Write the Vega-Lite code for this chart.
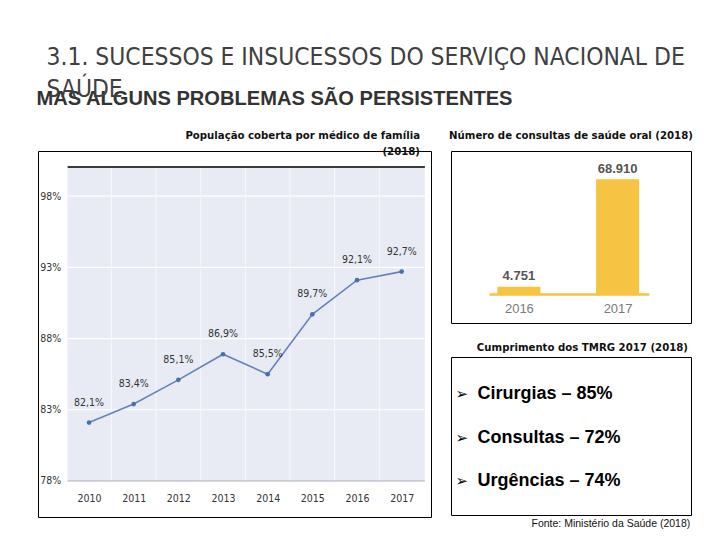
{
  "$schema": "https://vega.github.io/schema/vega-lite/v6.json",
  "padding": {"left": 36, "top": 44, "right": 0, "bottom": 0},
  "background": "white",
  "config": {
    "view": {"stroke": "#000000", "strokeWidth": 1},
    "font": "Liberation Sans"
  },
  "title": {
    "text": ["3.1. SUCESSOS E INSUCESSOS DO SERVIÇO NACIONAL DE", "SAÚDE"],
    "anchor": "start",
    "dx": 10,
    "fontSize": 24.4,
    "font": "DejaVu Sans Condensed, sans-serif",
    "fontWeight": "normal",
    "color": "#404040",
    "lineHeight": 32,
    "offset": -13
  },
  "vconcat": [
    {
      "title": {
        "text": "MAS ALGUNS PROBLEMAS SÃO PERSISTENTES",
        "anchor": "start",
        "dx": -1,
        "fontSize": 20.1,
        "fontWeight": "bold",
        "font": "Liberation Sans",
        "color": "#333333",
        "offset": 20
      },
      "bounds": "flush",
      "spacing": 20,
      "hconcat": [
        {
          "width": 393,
          "height": 366,
          "title": {
            "text": ["População coberta por médico de família", "(2018)"],
            "anchor": "end",
            "dx": -11,
            "offset": -6,
            "fontSize": 11.3,
            "font": "DejaVu Sans Condensed, sans-serif",
            "fontWeight": "bold",
            "color": "#111111",
            "lineHeight": 16
          },
          "layer": [
            {
              "data": {"values": [{}]},
              "mark": {"type": "rect", "color": "#e8ebf3"},
              "encoding": {
                "x": {"datum": 2009.52, "type": "quantitative", "scale": {"domain": [2008.857, 2017.657], "nice": false, "zero": false}},
                "x2": {"datum": 2017.52},
                "y": {"datum": 78, "type": "quantitative", "scale": {"domain": [75.47, 101.17], "nice": false, "zero": false}},
                "y2": {"datum": 100.05}
              }
            },
            {
              "data": {"values": [{"grade": 83}, {"grade": 88}, {"grade": 93}, {"grade": 98}]},
              "mark": {"type": "rule", "color": "#ffffff", "strokeWidth": 1.2},
              "encoding": {
                "x": {"datum": 2009.52, "type": "quantitative", "scale": {"domain": [2008.857, 2017.657], "nice": false, "zero": false}},
                "x2": {"datum": 2017.52},
                "y": {"field": "grade", "type": "quantitative", "scale": {"domain": [75.47, 101.17], "nice": false, "zero": false}}
              }
            },
            {
              "data": {"values": [{"limite": 2010.5}, {"limite": 2011.5}, {"limite": 2012.5}, {"limite": 2013.5}, {"limite": 2014.5}, {"limite": 2015.5}, {"limite": 2016.5}]},
              "mark": {"type": "rule", "color": "#f7f8fb", "strokeWidth": 1},
              "encoding": {
                "x": {"field": "limite", "type": "quantitative", "scale": {"domain": [2008.857, 2017.657], "nice": false, "zero": false}},
                "y": {"datum": 78, "type": "quantitative", "scale": {"domain": [75.47, 101.17], "nice": false, "zero": false}},
                "y2": {"datum": 100.05}
              }
            },
            {
              "data": {"values": [{}]},
              "mark": {"type": "rule", "color": "#a9adb5", "strokeWidth": 1},
              "encoding": {
                "x": {"datum": 2009.52, "type": "quantitative", "scale": {"domain": [2008.857, 2017.657], "nice": false, "zero": false}},
                "x2": {"datum": 2017.52},
                "y": {"datum": 78, "type": "quantitative", "scale": {"domain": [75.47, 101.17], "nice": false, "zero": false}}
              }
            },
            {
              "data": {"values": [{}]},
              "mark": {"type": "rule", "color": "#3a3a3a", "strokeWidth": 2},
              "encoding": {
                "x": {"datum": 2009.52, "type": "quantitative", "scale": {"domain": [2008.857, 2017.657], "nice": false, "zero": false}},
                "x2": {"datum": 2017.52},
                "y": {"datum": 100.05, "type": "quantitative", "scale": {"domain": [75.47, 101.17], "nice": false, "zero": false}}
              }
            },
            {
              "data": {
                "values": [
                  {"ano": 2010, "cobertura": 82.1, "rotulo": "82,1%"},
                  {"ano": 2011, "cobertura": 83.4, "rotulo": "83,4%"},
                  {"ano": 2012, "cobertura": 85.1, "rotulo": "85,1%"},
                  {"ano": 2013, "cobertura": 86.9, "rotulo": "86,9%"},
                  {"ano": 2014, "cobertura": 85.5, "rotulo": "85,5%"},
                  {"ano": 2015, "cobertura": 89.7, "rotulo": "89,7%"},
                  {"ano": 2016, "cobertura": 92.1, "rotulo": "92,1%"},
                  {"ano": 2017, "cobertura": 92.7, "rotulo": "92,7%"}
                ]
              },
              "layer": [
                {
                  "mark": {"type": "line", "color": "#6384b6", "strokeWidth": 1.6, "point": {"filled": true, "color": "#4870aa", "size": 22}},
                  "encoding": {
                    "x": {
                      "field": "ano", "type": "quantitative",
                      "scale": {"domain": [2008.857, 2017.657], "nice": false, "zero": false},
                      "axis": {"values": [2010, 2011, 2012, 2013, 2014, 2015, 2016, 2017], "format": "d", "offset": -36, "domain": false, "ticks": false, "grid": false, "labelPadding": 12, "labelFontSize": 10.5, "labelFont": "DejaVu Sans Condensed, sans-serif", "labelColor": "#333333", "title": null}
                    },
                    "y": {
                      "field": "cobertura", "type": "quantitative",
                      "scale": {"domain": [75.47, 101.17], "nice": false, "zero": false},
                      "axis": {"values": [78, 83, 88, 93, 98], "labelExpr": "datum.value + '%'", "offset": -29.7, "domain": false, "ticks": false, "grid": false, "labelPadding": 7, "labelFontSize": 10.5, "labelFont": "DejaVu Sans Condensed, sans-serif", "labelColor": "#333333", "title": null}
                    }
                  }
                },
                {
                  "mark": {"type": "text", "dy": -20, "fontSize": 10.5, "font": "DejaVu Sans Condensed, sans-serif", "color": "#333333"},
                  "encoding": {
                    "x": {"field": "ano", "type": "quantitative", "scale": {"domain": [2008.857, 2017.657], "nice": false, "zero": false}},
                    "y": {"field": "cobertura", "type": "quantitative", "scale": {"domain": [75.47, 101.17], "nice": false, "zero": false}},
                    "text": {"field": "rotulo"}
                  }
                }
              ]
            }
          ]
        },
        {
          "bounds": "flush",
          "spacing": 34,
          "vconcat": [
            {
              "width": 240,
              "height": 172,
              "title": {
                "text": "Número de consultas de saúde oral  (2018)",
                "anchor": "middle",
                "offset": 10,
                "fontSize": 11.3,
                "font": "DejaVu Sans Condensed, sans-serif",
                "fontWeight": "bold",
                "color": "#111111"
              },
              "data": {"values": [{"ano": 2016, "consultas": 4751, "rotulo": "4.751"}, {"ano": 2017, "consultas": 68910, "rotulo": "68.910"}]},
              "layer": [
                {
                  "mark": {"type": "bar", "color": "#f6c343", "width": 43},
                  "encoding": {
                    "x": {"field": "ano", "type": "quantitative", "scale": {"domain": [2015.363, 2017.693], "nice": false, "zero": false}, "axis": {"values": [2016, 2017], "format": "d", "offset": -28.4, "domain": false, "ticks": false, "grid": false, "labelPadding": 7.5, "labelFontSize": 13, "labelFont": "Liberation Sans", "labelColor": "#7a7a7a", "title": null}},
                    "y": {"field": "consultas", "type": "quantitative", "scale": {"domain": [-16975, 85825], "nice": false}, "axis": null}
                  }
                },
                {
                  "mark": {"type": "rule", "color": "#f6c343", "strokeWidth": 2},
                  "encoding": {
                    "x": {"datum": 2015.703, "type": "quantitative", "scale": {"domain": [2015.363, 2017.693], "nice": false, "zero": false}},
                    "x2": {"datum": 2017.32},
                    "y": {"datum": 0, "type": "quantitative", "scale": {"domain": [-16975, 85825], "nice": false}, "axis": null}
                  }
                },
                {
                  "mark": {"type": "text", "dy": -10.5, "fontWeight": "bold", "fontSize": 13, "color": "#555555", "font": "Liberation Sans"},
                  "encoding": {
                    "x": {"field": "ano", "type": "quantitative", "scale": {"domain": [2015.363, 2017.693], "nice": false, "zero": false}},
                    "y": {"field": "consultas", "type": "quantitative", "scale": {"domain": [-16975, 85825], "nice": false}, "axis": null},
                    "text": {"field": "rotulo"}
                  }
                }
              ]
            },
            {
              "width": 240,
              "height": 158,
              "title": {
                "text": "Cumprimento dos TMRG 2017  (2018)",
                "anchor": "end",
                "dx": -3,
                "offset": 4,
                "fontSize": 11.3,
                "font": "DejaVu Sans Condensed, sans-serif",
                "fontWeight": "bold",
                "color": "#111111"
              },
              "data": {"values": [{"ordem": 1, "item": "Cirurgias – 85%"}, {"ordem": 2, "item": "Consultas – 72%"}, {"ordem": 3, "item": "Urgências – 74%"}]},
              "layer": [
                {
                  "mark": {"type": "text", "text": "➢", "fontSize": 15, "font": "DejaVu Sans", "align": "center", "color": "#000000"},
                  "encoding": {
                    "x": {"datum": 0.045, "type": "quantitative", "scale": {"domain": [0, 1], "nice": false, "zero": false}, "axis": null},
                    "y": {"field": "ordem", "type": "quantitative", "scale": {"domain": [0.1625, 3.769], "nice": false, "zero": false, "reverse": true}, "axis": null}
                  }
                },
                {
                  "mark": {"type": "text", "align": "left", "fontSize": 18, "fontWeight": "bold", "font": "Liberation Sans", "color": "#000000"},
                  "encoding": {
                    "x": {"datum": 0.11, "type": "quantitative", "scale": {"domain": [0, 1], "nice": false, "zero": false}, "axis": null},
                    "y": {"field": "ordem", "type": "quantitative", "scale": {"domain": [0.1625, 3.769], "nice": false, "zero": false, "reverse": true}, "axis": null},
                    "text": {"field": "item"}
                  }
                },
                {
                  "data": {"values": [{"fonte": "Fonte: Ministério da Saúde  (2018)"}]},
                  "mark": {"type": "text", "align": "right", "fontSize": 10.5, "font": "Liberation Sans", "color": "#111111"},
                  "encoding": {
                    "x": {"datum": 0.997, "type": "quantitative", "scale": {"domain": [0, 1], "nice": false, "zero": false}, "axis": null},
                    "y": {"datum": 3.975, "type": "quantitative", "scale": {"domain": [0.1625, 3.769], "nice": false, "zero": false, "reverse": true}, "axis": null},
                    "text": {"field": "fonte"}
                  }
                }
              ]
            }
          ]
        }
      ]
    }
  ]
}
